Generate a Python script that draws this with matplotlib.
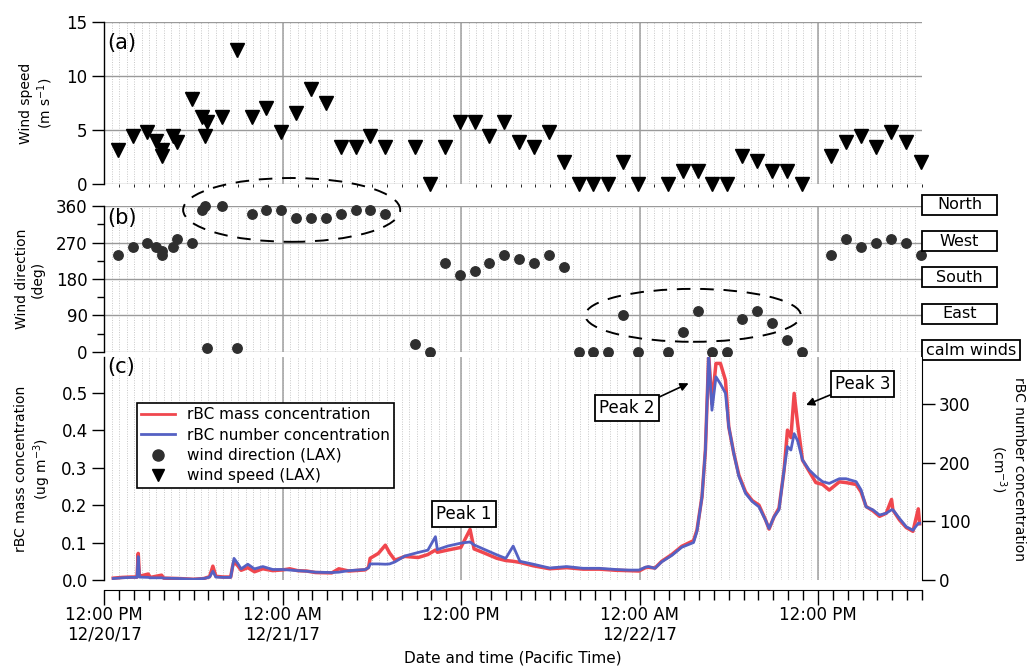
import numpy as np
import matplotlib
matplotlib.use("Agg")
import matplotlib.pyplot as plt
from matplotlib.patches import Ellipse, Rectangle
from matplotlib.lines import Line2D
from matplotlib.ticker import MultipleLocator, FixedLocator
import matplotlib.transforms as mtransforms

# all times are hours after 12:00 PM 12/20/17 (Pacific Time)
wind_hours = [0.9, 1.9, 2.9, 3.45, 3.85, 3.9, 4.65, 4.9, 5.9, 6.55, 6.75, 6.9, 7.9, 8.9,
              9.9, 10.9, 11.9, 12.9, 13.9, 14.9, 15.9, 16.9, 17.9, 18.9, 20.9, 21.9,
              22.9, 23.9, 24.9, 25.9, 26.9, 27.9, 28.9, 29.9, 30.9, 31.9, 32.9, 33.9,
              34.9, 35.9, 37.9, 38.9, 39.9, 40.9, 41.9, 42.9, 43.9, 44.9, 45.9, 46.9,
              48.9, 49.9, 50.9, 51.9, 52.9, 53.9, 54.9]
wind_speed = [3.1, 4.4, 4.8, 4.0, 2.6, 3.1, 4.4, 3.9, 7.9, 6.2, 4.4, 5.7, 6.2, 12.4,
              6.2, 7.0, 4.8, 6.6, 8.8, 7.5, 3.4, 3.4, 4.4, 3.4, 3.4, 0.0,
              3.4, 5.7, 5.7, 4.4, 5.7, 3.9, 3.4, 4.8, 2.0, 0.0, 0.0, 0.0,
              2.0, 0.0, 0.0, 1.2, 1.2, 0.0, 0.0, 2.6, 2.1, 1.2, 1.2, 0.0,
              2.6, 3.9, 4.4, 3.4, 4.8, 3.9, 2.0]
wind_dir = [240, 260, 270, 260, 240, 250, 260, 280, 270, 350, 360, 10, 360, 10,
            340, 350, 350, 330, 330, 330, 340, 350, 350, 340, 20, 0,
            220, 190, 200, 220, 240, 230, 220, 240, 210, 0, 0, 0,
            90, 0, 0, 50, 100, 0, 0, 80, 100, 70, 30, 0,
            240, 280, 260, 270, 280, 270, 240]

rbc_hours = [0.6, 1.2, 1.8, 2.2, 2.28, 2.36, 2.95, 3.1, 3.85, 4.0, 5.0, 6.0, 6.7, 7.08,
             7.3, 7.5, 8.0, 8.5, 8.62, 8.72, 8.98, 9.2, 9.65, 10.1, 10.66, 11.33, 12.0,
             12.47, 13.0, 13.6, 14.2, 15.3, 15.77, 16.44, 17.55, 17.77, 17.88, 18.43,
             18.9, 19.19, 19.55, 20.21, 21.1, 21.76, 22.27, 22.4, 23.1, 23.98, 24.6,
             24.87, 25.5, 26.4, 27.0, 27.5, 27.95, 28.85, 29.95, 31.1, 32.2, 33.3, 34.4,
             35.24, 35.96, 36.4, 36.6, 37.04, 37.49, 38.17, 38.84, 39.63, 39.86, 40.2,
             40.43, 40.65, 40.87, 41.14, 41.44, 41.78, 42.0, 42.34, 42.68, 43.13, 43.58,
             44.03, 44.48, 44.71, 45.05, 45.38, 45.72, 45.95, 46.18, 46.4, 46.63, 46.96,
             47.41, 47.86, 48.31, 48.76, 49.44, 49.89, 50.57, 50.9, 51.24, 51.69, 52.14,
             52.59, 52.95, 53.04, 53.49, 53.94, 54.39, 54.75, 54.84]
# ug m-3
rbc_mass = [0.005, 0.007, 0.008, 0.008, 0.071, 0.010, 0.016, 0.007, 0.013, 0.005, 0.004,
            0.002, 0.004, 0.009, 0.037, 0.010, 0.008, 0.008, 0.035, 0.049, 0.038, 0.026,
            0.033, 0.022, 0.030, 0.025, 0.027, 0.030, 0.025, 0.024, 0.020, 0.019, 0.030,
            0.024, 0.027, 0.034, 0.058, 0.071, 0.093, 0.072, 0.053, 0.063, 0.060, 0.068,
            0.080, 0.074, 0.080, 0.087, 0.135, 0.083, 0.073, 0.058, 0.052, 0.050, 0.047,
            0.038, 0.030, 0.033, 0.029, 0.029, 0.026, 0.025, 0.024, 0.033, 0.034, 0.032,
            0.050, 0.068, 0.090, 0.105, 0.133, 0.222, 0.347, 0.600, 0.470, 0.578, 0.578,
            0.533, 0.409, 0.338, 0.280, 0.235, 0.212, 0.200, 0.160, 0.136, 0.169, 0.192,
            0.293, 0.400, 0.380, 0.498, 0.418, 0.320, 0.290, 0.260, 0.255, 0.240, 0.262,
            0.260, 0.255, 0.235, 0.196, 0.185, 0.170, 0.178, 0.215, 0.187, 0.160, 0.140,
            0.130, 0.190, 0.150]
# cm-3
rbc_number = [2.6, 3.8, 4.5, 4.5, 40, 5, 4.5, 3.8, 3.8, 3.2, 2.6, 1.3, 2.6, 5,
              15, 5, 4.5, 4.5, 22, 37, 28, 19, 27, 19, 23, 18, 18,
              17, 16, 15, 13.4, 12.8, 13.4, 16, 18, 21, 27.5, 27.5,
              27, 27.5, 31, 41, 47, 51, 74, 52, 58, 63, 65,
              60, 53, 43, 37, 58, 32, 27, 20.5, 23, 20, 20, 18,
              17, 17, 22, 23, 20, 31, 42, 56, 64, 83, 142,
              222, 384, 290, 347, 335, 319, 262, 216, 177, 148, 134,
              125, 102, 88, 108, 120, 188, 228, 222, 250, 238, 205,
              188, 177, 168, 165, 173, 173, 168, 154, 125, 120, 111,
              114, 120, 120, 105, 91, 85, 97, 97]

x_tick_hours = [0, 12, 24, 36, 48]
x_tick_labels = ["12:00 PM\n12/20/17", "12:00 AM\n12/21/17", "12:00 PM",
                 "12:00 AM\n12/22/17", "12:00 PM"]
dir_names = ["North", "West", "South", "East", "calm winds"]
dir_levels = [360, 270, 180, 90, 0]

RED = "#f0474e"
BLUE = "#5561c3"
DOT = "#2f2f2f"

plt.rcParams['font.family'] = ['DejaVu Sans']

fig = plt.figure(figsize=(10.31, 6.68), dpi=100)
L, W = 0.1012, 0.7931
ax_a = fig.add_axes([L, 0.725, W, 0.2416])
ax_b = fig.add_axes([L, 0.4735, W, 0.2177], sharex=ax_a)
ax_c = fig.add_axes([L, 0.1317, W, 0.3338], sharex=ax_a)

t_end = 55
half_hours = np.arange(0.5, t_end, 0.5)

for ax in (ax_a, ax_b, ax_c):
    ax.set_xlim(0, t_end)
    ax.vlines(half_hours, 0, 1, transform=ax.get_xaxis_transform(), colors="#c8c8c8",
              linestyles=(0, (1, 1.5)), linewidth=0.7, zorder=0)
    ax.vlines(x_tick_hours, 0, 1, transform=ax.get_xaxis_transform(), colors="#a0a0a0",
              linewidth=1.1, zorder=0)
    for s in ("top", "right", "bottom"):
        ax.spines[s].set_visible(False)
    ax.spines["left"].set_linewidth(1.0)
    ax.tick_params(axis="y", direction="out", length=9, width=1, labelsize=12, pad=3)

# (a) wind speed
ax_a.plot(wind_hours, wind_speed, linestyle="none", marker="v", markersize=10.5,
          color="black", clip_on=False, zorder=3)
ax_a.set_ylim(0, 15)
ax_a.set_yticks([0, 5, 10, 15])
ax_a.yaxis.grid(True, color="#9a9a9a", linewidth=1.0)
ax_a.set_axisbelow(True)
ax_a.tick_params(axis="x", length=0, labelbottom=False)
ax_a.set_ylabel("Wind speed\n(m s$^{-1}$)", fontsize=10, labelpad=8)
ax_a.text(0.004, 0.87, "(a)", transform=ax_a.transAxes, fontsize=15, va="center")

# (b) wind direction
ax_b.plot(wind_hours, wind_dir, linestyle="none", marker="o", markersize=6.8,
          color=DOT, clip_on=False, zorder=3)
ax_b.set_ylim(0, 360)
ax_b.set_yticks([0, 90, 180, 270, 360])
ax_b.yaxis.set_minor_locator(FixedLocator([45, 135, 225, 315]))
ax_b.tick_params(axis="y", which="minor", direction="out", length=5, width=1)
ax_b.yaxis.grid(True, color="#9a9a9a", linewidth=1.0)
ax_b.tick_params(axis="x", which="both", length=0, labelbottom=False)
ax_b.set_ylabel("Wind direction\n(deg)", fontsize=10, labelpad=8)
ax_b.text(0.004, 0.92, "(b)", transform=ax_b.transAxes, fontsize=15, va="center")

ax_b.add_patch(Ellipse((12.6, 351), 14.6, 158, fill=False, edgecolor="black",
                       linestyle=(0, (7, 5)), linewidth=1.4, clip_on=False, zorder=4))
ax_b.add_patch(Ellipse((39.6, 90), 14.5, 131, fill=False, edgecolor="black",
                       linestyle=(0, (7, 5)), linewidth=1.4, clip_on=False, zorder=4))

trans_b = mtransforms.blended_transform_factory(ax_b.transAxes, ax_b.transData)
for name, level in zip(dir_names, dir_levels):
    bw = 0.12 if name == "calm winds" else 0.092
    ax_b.add_patch(Rectangle((1.0, level - 21), bw, 50, transform=trans_b,
                             fill=True, facecolor="white", edgecolor="black",
                             linewidth=1.3, clip_on=False, zorder=5))
    ax_b.text(1.0 + bw / 2, level + 4, name, transform=trans_b, ha="center",
              va="center", fontsize=11.5, zorder=6)

# (c) rBC
ax_c.plot(rbc_hours, rbc_mass, color=RED, linewidth=2.5, zorder=3)
ax_c.set_ylim(0, 0.595)
ax_c.set_yticks([0.0, 0.1, 0.2, 0.3, 0.4, 0.5])
ax_c.set_yticklabels(["0.0", "0.1", "0.2", "0.3", "0.4", "0.5"])
ax_c.set_ylabel("rBC mass concentration\n(ug m$^{-3}$)", fontsize=10, labelpad=6)
ax_c.text(0.004, 0.955, "(c)", transform=ax_c.transAxes, fontsize=15, va="center")

ax_c.spines["bottom"].set_visible(True)
ax_c.spines["bottom"].set_position(("outward", 7))
ax_c.xaxis.set_major_locator(FixedLocator(x_tick_hours))
ax_c.xaxis.set_minor_locator(MultipleLocator(1))
ax_c.set_xticks(x_tick_hours, x_tick_labels)
ax_c.tick_params(axis="x", which="major", direction="out", length=11, width=1,
                 labelsize=12, pad=1)
ax_c.tick_params(axis="x", which="minor", direction="out", length=7, width=1)
for lbl in ax_c.get_xticklabels():
    lbl.set_linespacing(1.05)
ax_c.set_xlabel("Date and time (Pacific Time)", fontsize=11, labelpad=5)

ax_r = ax_c.twinx()
ax_r.plot(rbc_hours, rbc_number, color=BLUE, linewidth=2.0, zorder=4)
ax_r.set_ylim(0, 0.595 * 640)
ax_r.set_yticks([0, 100, 200, 300])
for s in ("top", "left", "bottom"):
    ax_r.spines[s].set_visible(False)
ax_r.tick_params(axis="y", direction="out", length=9, width=1, labelsize=12, pad=3)
ax_r.set_ylabel("rBC number concentration\n(cm$^{-3}$)", fontsize=10, rotation=-90,
                labelpad=40)

handles = [Line2D([], [], color=RED, linewidth=2),
           Line2D([], [], color=BLUE, linewidth=2),
           Line2D([], [], linestyle="none", marker="o", markersize=8, color=DOT),
           Line2D([], [], linestyle="none", marker="v", markersize=9, color="black")]
leg = ax_c.legend(handles, ["rBC mass concentration", "rBC number concentration",
                            "wind direction (LAX)", "wind speed (LAX)"],
                  loc="upper left", bbox_to_anchor=(0.03, 0.83), fontsize=11,
                  frameon=True, fancybox=False, framealpha=1, handlelength=2.2,
                  borderpad=0.3, labelspacing=0.35, handletextpad=0.8)
leg.get_frame().set_edgecolor("black")
leg.get_frame().set_linewidth(1.2)
leg.set_zorder(10)

box = dict(boxstyle="square,pad=0.25", facecolor="white", edgecolor="black", linewidth=1.3)
ax_c.text(24.2, 0.176, "Peak 1", ha="center", va="center", fontsize=12, bbox=box, zorder=6)
ax_c.annotate("Peak 2", xy=(39.3, 0.525), xytext=(35.17, 0.459), ha="center", va="center",
              fontsize=12, bbox=box, zorder=6,
              arrowprops=dict(arrowstyle="-|>", color="black", lw=1.2, relpos=(1.0, 1.0),
                              shrinkA=0, shrinkB=0, mutation_scale=12))
ax_c.annotate("Peak 3", xy=(47.2, 0.467), xytext=(51.0, 0.523), ha="center", va="center",
              fontsize=12, bbox=box, zorder=6,
              arrowprops=dict(arrowstyle="-|>", color="black", lw=1.2, relpos=(0.0, 0.0),
                              shrinkA=0, shrinkB=0, mutation_scale=12))

fig.savefig("out.png", dpi=100)
